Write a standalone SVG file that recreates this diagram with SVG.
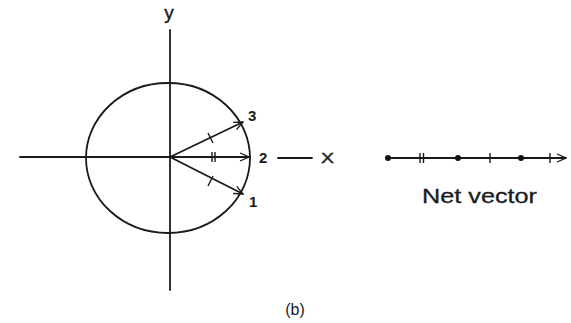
<svg xmlns="http://www.w3.org/2000/svg" width="571" height="323" viewBox="0 0 571 323">
<defs>
<style>
.ln{stroke:#1a1a1a;stroke-width:1.8;fill:none;stroke-linecap:round}
.th{stroke:#1a1a1a;stroke-width:1.4;fill:none}
.t{font-family:"Liberation Sans",Arial,sans-serif;fill:#1a1a1a}
.b{font-weight:bold}
</style>
<marker id="ah" viewBox="0 0 10 10" refX="10" refY="5" markerWidth="10" markerHeight="10" markerUnits="userSpaceOnUse" orient="auto">
<path d="M1,1 L10,5 L1,9" fill="none" stroke="#1a1a1a" stroke-width="1.3"/>
</marker>
</defs>
<rect width="571" height="323" fill="#fff"/>
<g id="axes">
<line class="ln" x1="170" y1="30" x2="170" y2="290"/>
<line class="ln" x1="20" y1="157" x2="250" y2="157"/>
<line class="ln" x1="278" y1="158" x2="312" y2="158"/>
</g>
<g id="circle">
<ellipse class="ln" cx="168" cy="158" rx="82" ry="75"/>
</g>
<g id="connectors">
<line class="ln" x1="170" y1="157" x2="243" y2="122" marker-end="url(#ah)"/>
<line class="ln" x1="170" y1="157" x2="249" y2="157" marker-end="url(#ah)"/>
<line class="ln" x1="170" y1="157" x2="243" y2="194" marker-end="url(#ah)"/>
<line class="th" x1="208" y1="133" x2="213" y2="143"/>
<line class="th" x1="208" y1="186" x2="213" y2="176"/>
<line class="th" x1="212" y1="152" x2="212" y2="162"/>
<line class="th" x1="215" y1="152" x2="215" y2="162"/>
</g>
<g id="labels">
<text class="t" x="169" y="19" font-size="19" text-anchor="middle" stroke="#1a1a1a" stroke-width="0.4">y</text>
<text class="t b" x="248" y="121" font-size="15">3</text>
<text class="t b" x="259" y="163" font-size="15">2</text>
<text class="t b" x="249" y="207" font-size="15">1</text>
<text class="t" x="321" y="163" font-size="14" textLength="13" lengthAdjust="spacingAndGlyphs" stroke="#1a1a1a" stroke-width="0.4">X</text>
<text class="t" x="295" y="315" font-size="16" text-anchor="middle">(b)</text>
</g>
<g id="net-vector">
<line class="ln" x1="387" y1="158" x2="566" y2="158" marker-end="url(#ah)"/>
<circle cx="388" cy="158" r="3" fill="#111"/>
<circle cx="458" cy="158" r="3" fill="#111"/>
<circle cx="521" cy="158" r="3" fill="#111"/>
<line class="th" x1="420" y1="153" x2="420" y2="163"/>
<line class="th" x1="423.5" y1="153" x2="423.5" y2="163"/>
<line class="th" x1="490" y1="153" x2="490" y2="163"/>
<line class="th" x1="550" y1="153" x2="550" y2="163"/>
<text class="t" x="422" y="203" font-size="21" textLength="115" lengthAdjust="spacingAndGlyphs" stroke="#1a1a1a" stroke-width="0.3">Net vector</text>
</g>
</svg>
